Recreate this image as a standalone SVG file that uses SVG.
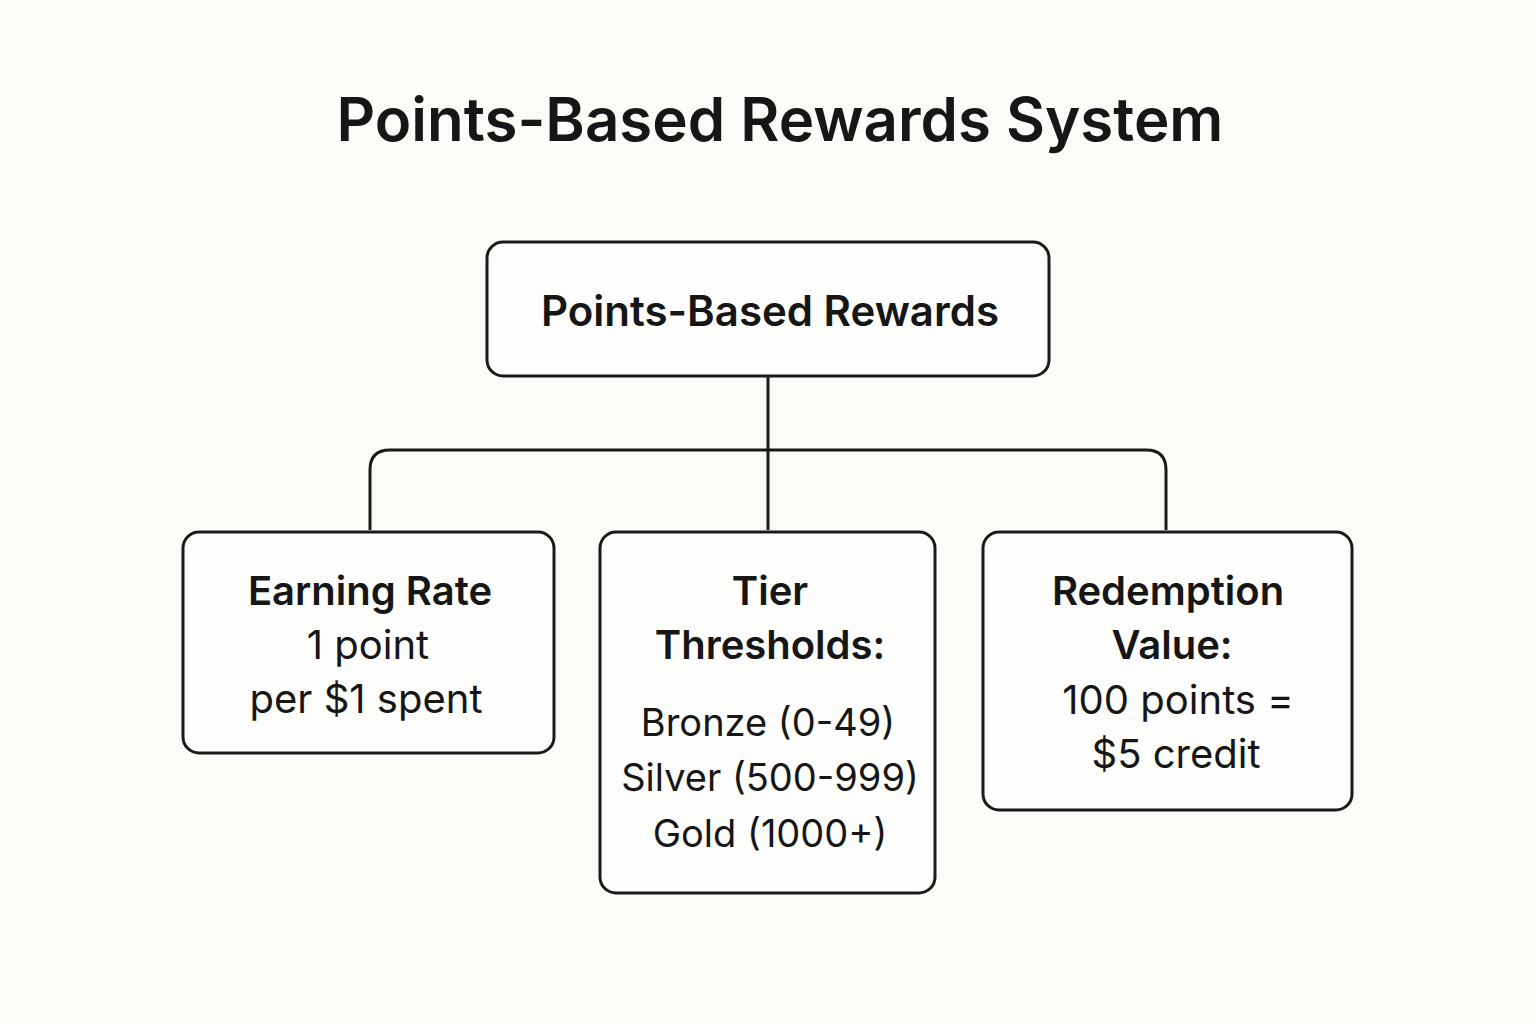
<svg xmlns="http://www.w3.org/2000/svg" width="1536" height="1024" viewBox="0 0 1536 1024">
<style>
.box{fill:#fdfdfb;stroke:#1a1a1a;stroke-width:3}
.b{font-family:Inter,"Liberation Sans",sans-serif;font-weight:600;fill:#161616;text-anchor:middle}
.r{font-family:Inter,"Liberation Sans",sans-serif;font-weight:400;fill:#161616;text-anchor:middle}
.c{fill:none;stroke:#1a1a1a;stroke-width:3}
</style>
<rect width="1536" height="1024" fill="#fcfbf8"/>
<text class="b" x="780" y="141" font-size="60">Points-Based Rewards System</text>
<g id="connectors">
<path class="c" d="M768 377V530M370 530V470Q370 450 390 450H1146Q1166 450 1166 470V530"/>
</g>
<g id="root"><rect class="box" x="487" y="242" width="562" height="134" rx="16"/>
<text class="b" x="770" y="326" font-size="42">Points-Based Rewards</text></g>
<g id="earning"><rect class="box" x="183" y="532" width="371" height="221" rx="16"/>
<text class="b" x="370" y="605" font-size="40">Earning Rate</text>
<text class="r" x="368" y="659" font-size="40">1 point</text>
<text class="r" x="366" y="713" font-size="40">per $1 spent</text></g>
<g id="tier"><rect class="box" x="600" y="532" width="335" height="361" rx="16"/>
<text class="b" x="770" y="605" font-size="40">Tier</text>
<text class="b" x="770" y="659" font-size="40">Thresholds:</text>
<text class="r" x="768" y="736" font-size="38">Bronze (0-49)</text>
<text class="r" x="770" y="791" font-size="38">Silver (500-999)</text>
<text class="r" x="770" y="847" font-size="38">Gold (1000+)</text></g>
<g id="redemption"><rect class="box" x="983" y="532" width="369" height="278" rx="16"/>
<text class="b" x="1168" y="605" font-size="40">Redemption</text>
<text class="b" x="1172" y="659" font-size="40">Value:</text>
<text class="r" x="1178" y="714" font-size="40">100 points =</text>
<text class="r" x="1176" y="768" font-size="40">$5 credit</text></g>
</svg>
